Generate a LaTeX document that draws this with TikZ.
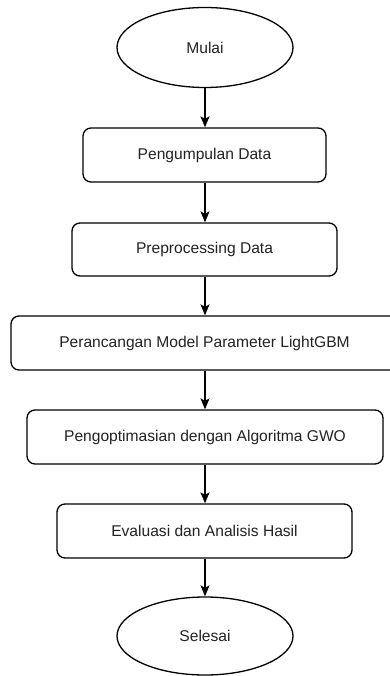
\documentclass[tikz,border=0pt]{standalone}
\usepackage{fontspec}
\setmainfont{Liberation Sans}
\usetikzlibrary{shapes.geometric,arrows.meta}
\definecolor{ink}{HTML}{222222}
\tikzset{
  base/.style={draw=black, line width=1.3pt, inner sep=0pt, text=ink,
    font=\fontsize{15.6}{18}\selectfont, anchor=center},
  terminal/.style={base, ellipse, minimum width=176pt, minimum height=80pt},
  stepbox/.style={base, rectangle, rounded corners=8pt, minimum height=54pt},
  flow/.style={draw=black, line width=1.3pt,
    -{Stealth[length=11pt, width=9pt, inset=2.5pt]}}
}
\begin{document}
\begin{tikzpicture}[x=1pt, y=-1pt]
  \useasboundingbox (0,0) rectangle (390,676);
  \clip (0,0) rectangle (390,676);
  \node[terminal] (mulai) at (205,47.5) {Mulai};
  \node[stepbox, minimum width=243pt] (kumpul) at (204.5,155) {Pengumpulan Data};
  \node[stepbox, minimum width=265pt, minimum height=53pt] (prep) at (204.5,249.5) {Preprocessing Data};
  \node[stepbox, minimum width=387pt] (rancang) at (204.5,343) {Perancangan Model Parameter LightGBM};
  \node[stepbox, minimum width=356pt] (optim) at (205,437) {Pengoptimasian dengan Algoritma GWO};
  \node[stepbox, minimum width=295pt] (eval) at (204.5,531) {Evaluasi dan Analisis Hasil};
  \node[terminal, minimum height=78pt] (selesai) at (205,636) {Selesai};
  \draw[flow] (mulai.south) -- (mulai.south |- kumpul.north);
  \draw[flow] (mulai.south |- kumpul.south) -- (mulai.south |- prep.north);
  \draw[flow] (mulai.south |- prep.south) -- (mulai.south |- rancang.north);
  \draw[flow] (mulai.south |- rancang.south) -- (mulai.south |- optim.north);
  \draw[flow] (mulai.south |- optim.south) -- (mulai.south |- eval.north);
  \draw[flow] (mulai.south |- eval.south) -- (selesai.north);
\end{tikzpicture}
\end{document}
